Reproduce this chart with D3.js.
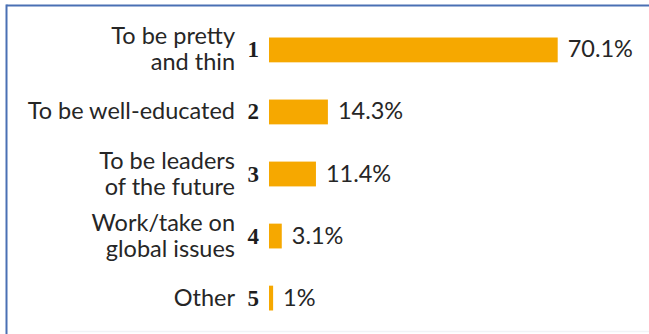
<!DOCTYPE html>
<html>
<head>
<meta charset="utf-8">
<script src="https://cdn.jsdelivr.net/npm/d3@7"></script>
<style>
  html, body { margin: 0; padding: 0; background: #fff; }
  svg { display: block; }
</style>
</head>
<body>
<svg id="chart" width="649" height="334"></svg>
<script>
// Survey answers, one row per rank
const ranks = [1, 2, 3, 4, 5];
const labels = [
  ["To be pretty", "and thin"],
  ["To be well-educated"],
  ["To be leaders", "of the future"],
  ["Work/take on", "global issues"],
  ["Other"]
];
const values = [70.1, 14.3, 11.4, 3.1, 1];
const valueLabels = ["70.1%", "14.3%", "11.4%", "3.1%", "1%"];

const W = 649, H = 334;
const svg = d3.select("#chart");

// Frame: blue rule along the top and left, faint rule along the bottom
svg.append("line").attr("x1", 6.5).attr("x2", W).attr("y1", 5.5).attr("y2", 5.5)
  .attr("stroke", "#4a70b4").attr("stroke-width", 2);
svg.append("line").attr("x1", 6.5).attr("x2", 6.5).attr("y1", 4.5).attr("y2", H)
  .attr("stroke", "#4a70b4").attr("stroke-width", 2);
svg.append("line").attr("x1", 60).attr("x2", W).attr("y1", 331.5).attr("y2", 331.5)
  .attr("stroke", "#f1f3f6").attr("stroke-width", 1.5);

const barX0 = 269;
const x = d3.scaleLinear().domain([0, 70.1]).range([barX0, 557.7]);
const y = d3.scaleBand().domain(ranks).range([22, 326]).paddingInner(0.6).paddingOuter(0.25);

const rows = svg.selectAll("g.row")
  .data(ranks.map((r, i) => ({ rank: r, lines: labels[i], value: values[i], text: valueLabels[i] })))
  .join("g").attr("class", "row");

// Bars
rows.append("rect")
  .attr("x", barX0)
  .attr("y", d => y(d.rank))
  .attr("width", d => x(d.value) - barX0)
  .attr("height", y.bandwidth())
  .attr("fill", "#f6a800");

// Rank numbers
rows.append("text")
  .attr("x", 259)
  .attr("y", d => y(d.rank) + y.bandwidth() / 2 + 7.5)
  .attr("text-anchor", "end")
  .attr("font-family", "'Liberation Serif', serif")
  .attr("font-weight", "bold")
  .attr("font-size", 23)
  .attr("fill", "#1e1e1e")
  .text(d => d.rank);

// Category labels, right aligned, one or two lines centred on the bar
rows.append("text")
  .attr("text-anchor", "end")
  .attr("font-family", "Lato, sans-serif")
  .attr("font-size", 23.5)
  .attr("fill", "#262626")
  .each(function(d) {
    const t = d3.select(this);
    const cy = y(d.rank) + y.bandwidth() / 2;
    const lh = 26;
    const first = cy + 7.5 - (d.lines.length - 1) * lh / 2;
    d.lines.forEach((ln, k) => {
      t.append("tspan").attr("x", 235).attr("y", first + k * lh).text(ln);
    });
  });

// Value labels at the bar ends
rows.append("text")
  .attr("x", d => x(d.value) + 10)
  .attr("y", d => y(d.rank) + y.bandwidth() / 2 + 7.5)
  .attr("font-family", "Lato, sans-serif")
  .attr("font-size", 23.5)
  .attr("fill", "#262626")
  .text(d => d.text);
</script>
</body>
</html>
